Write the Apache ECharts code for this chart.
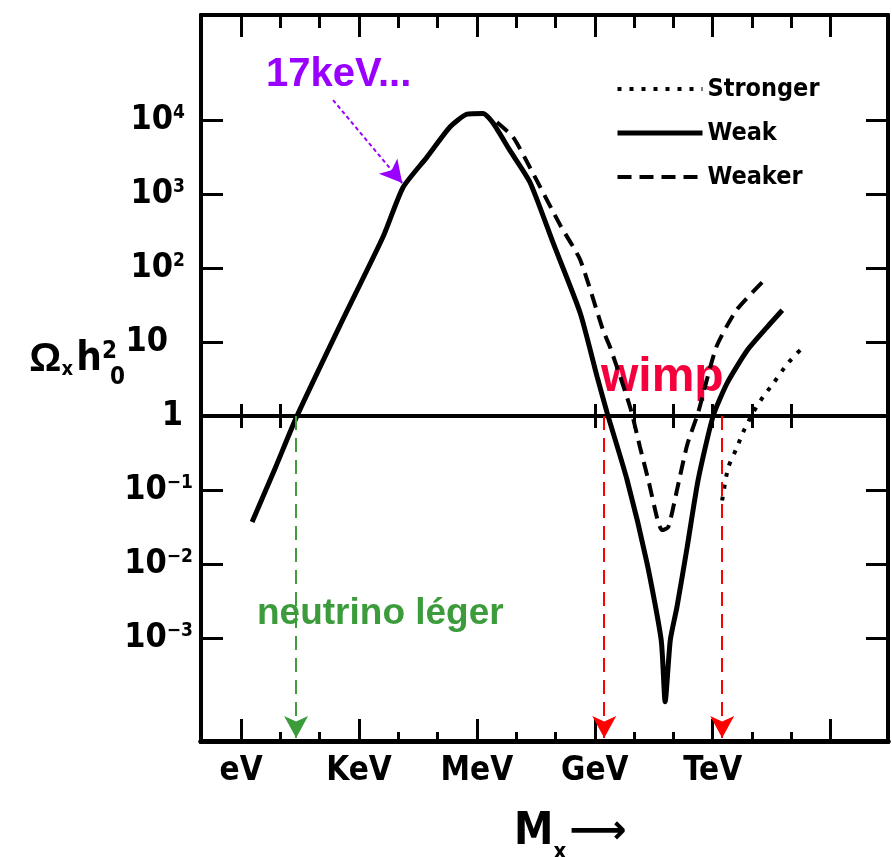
<!DOCTYPE html>
<html>
<head>
<meta charset="utf-8">
<script src="https://cdn.jsdelivr.net/npm/echarts@6/dist/echarts.min.js"></script>
<style>
  html, body { margin: 0; padding: 0; background: #fff; }
  #chart { width: 892px; height: 857px; }
</style>
</head>
<body>
<div id="chart"></div>
<script>
// x = log10(mass / eV), y = log10(Omega h0^2)
const massTicks = [0, 3, 6, 9, 12, 15]
const massLabels = { 0: 'eV', 3: 'KeV', 6: 'MeV', 9: 'GeV', 12: 'TeV' }
const minorMassTicks = [1, 2, 4, 5, 7, 8, 10, 11, 13, 14]
const lineTicks = [0, 1, 9, 10, 11, 12, 13, 14]
const omegaTicks = [-3, -2, -1, 0, 1, 2, 3, 4]

const weak = [
  [0.28, -1.43], [0.87, -0.70], [1.42, 0.00], [2.52, 1.23], [3.61, 2.42],
  [4.12, 3.09], [4.73, 3.50], [5.32, 3.91], [5.75, 4.08], [6.16, 4.09],
  [6.41, 3.96], [6.84, 3.59], [7.35, 3.16], [7.94, 2.34], [8.63, 1.39],
  [9.06, 0.53], [9.31, 0.05], [9.82, -0.86], [10.33, -1.99], [10.69, -3.03],
  [10.79, -3.86], [10.92, -3.03], [11.09, -2.58], [11.35, -1.77], [11.63, -0.86],
  [12.01, 0.00], [12.37, 0.45], [12.88, 0.89], [13.38, 1.20], [13.77, 1.43]
]
const weaker = [
  [6.51, 3.97], [6.92, 3.77], [7.35, 3.36], [8.12, 2.58], [8.63, 2.11],
  [9.21, 1.16], [9.39, 0.93], [9.90, 0.12], [10.15, -0.42], [10.36, -0.86],
  [10.61, -1.43], [10.71, -1.54], [10.87, -1.50], [11.09, -1.00], [11.35, -0.39],
  [11.63, 0.05], [12.09, 0.93], [12.60, 1.43], [13.26, 1.81]
]
const stronger = [
  [12.24, -1.14], [12.39, -0.70], [12.62, -0.42], [12.77, -0.22], [13.03, 0.05],
  [13.28, 0.26], [13.51, 0.42], [13.92, 0.72], [14.35, 0.96]
]

// annotation arrows (data coords)
const keVArrow = [[2.34, 4.27], [4.10, 3.15]]
const neutrinoX = 1.40
const wimpX = [9.24, 12.24]

const xMin = -1.02, xMax = 16.46
const yMin = -4.39, yMax = 5.42

const NARROW = '"Liberation Sans Narrow", "DejaVu Sans Condensed", "Liberation Sans", sans-serif'
const SANS = '"Liberation Sans", Arial, sans-serif'

function xAxisBase(position) {
  return {
    type: 'value', min: xMin, max: xMax, position: position,
    axisLine: { onZero: false, lineStyle: { color: '#000', width: position === 'bottom' ? 5 : 4 } },
    axisTick: { show: false },
    axisLabel: { show: false },
    splitLine: { show: false }
  }
}

function tickStyle(values, len, inside, width) {
  return { show: true, inside: inside, length: len, customValues: values, lineStyle: { color: '#000', width: width } }
}

let bottomMajor = xAxisBase('bottom')
bottomMajor.axisTick = tickStyle(massTicks, 22, true, 3)
bottomMajor.axisLabel = {
  show: true, customValues: [0, 3, 6, 9, 12], margin: 14,
  formatter: function(v) { return massLabels[Math.round(v)] || '' },
  color: '#000', fontFamily: NARROW, fontWeight: 'bold', fontSize: 33
}
bottomMajor.name = '{m|M}{x|x} {a|⟶}'
bottomMajor.nameLocation = 'middle'
bottomMajor.nameGap = 70
bottomMajor.nameMoveOverlap = false
bottomMajor.nameTextStyle = {
  padding: [0, 0, 0, 52],
  rich: {
    m: { fontFamily: NARROW, fontWeight: 'bold', fontSize: 44, color: '#000' },
    x: { fontFamily: NARROW, fontWeight: 'bold', fontSize: 22, color: '#000', verticalAlign: 'bottom', padding: [0, 0, -8, 0] },
    a: { fontFamily: '"DejaVu Sans"', fontWeight: 'bold', fontSize: 40, color: '#000' }
  }
}

let bottomMinor = xAxisBase('bottom')
bottomMinor.axisTick = tickStyle(minorMassTicks, 9, true, 3)

let topMajor = xAxisBase('top')
topMajor.axisTick = tickStyle(massTicks, 22, true, 3)

let topMinor = xAxisBase('top')
topMinor.axisTick = tickStyle(minorMassTicks, 13, true, 3)

// the Omega = 1 line, with ticks on both sides
let oneUp = xAxisBase('bottom')
oneUp.axisLine = { onZero: true, onZeroAxisIndex: 0, lineStyle: { color: '#000', width: 4 } }
oneUp.axisTick = tickStyle(lineTicks, 12, true, 3)

let oneDown = xAxisBase('bottom')
oneDown.axisLine = { onZero: true, onZeroAxisIndex: 0, lineStyle: { color: '#000', width: 4 } }
oneDown.axisTick = tickStyle(lineTicks, 12, false, 3)

function omegaLabel(v) {
  let n = Math.round(v)
  if (n === 0) return '{b|1}{p10| }'
  if (n === 1) return '{b|10}{p25| }'
  if (n > 0) return '{b|10}{s|' + n + '}{p8| }'
  return '{b|10}{s|−' + (-n) + '}'
}

let chart = echarts.init(document.getElementById('chart'))
chart.setOption({
  animation: false,
  backgroundColor: '#fff',
  grid: { left: 201, right: 4, top: 15, bottom: 116, outerBoundsMode: 'none', containLabel: false },
  legend: {
    data: ['Stronger', 'Weak', 'Weaker'],
    orient: 'vertical',
    left: 610, top: 70,
    itemWidth: 85, itemHeight: 14, itemGap: 16,
    selectedMode: false,
    itemStyle: { opacity: 0 },
    lineStyle: { width: 'inherit' },
    textStyle: { color: '#000', fontFamily: NARROW, fontWeight: 'bold', fontSize: 25, lineHeight: 28 }
  },
  xAxis: [bottomMajor, bottomMinor, topMajor, topMinor, oneUp, oneDown],
  yAxis: [
    {
      type: 'value', min: yMin, max: yMax, position: 'left',
      axisLine: { onZero: false, lineStyle: { color: '#000', width: 4 } },
      axisTick: tickStyle(omegaTicks, 22, true, 3),
      axisLabel: {
        customValues: omegaTicks, margin: 8,
        formatter: omegaLabel,
        rich: {
          b: { fontFamily: NARROW, fontWeight: 'bold', fontSize: 34, color: '#000' },
          s: { fontFamily: NARROW, fontWeight: 'bold', fontSize: 19, color: '#000', verticalAlign: 'top' },
          p8: { width: 8 }, p10: { width: 10 }, p25: { width: 25 }
        }
      },
      splitLine: { show: false },
      name: '{o|Ω}{x|x} {h|h}{t|2}{u|0}',
      nameLocation: 'middle',
      nameRotate: 0,
      nameGap: 76,
      nameMoveOverlap: false,
      nameTextStyle: {
        padding: [0, 0, 36, 0],
        rich: {
          o: { fontFamily: SANS, fontWeight: 'bold', fontSize: 40, color: '#000' },
          x: { fontFamily: NARROW, fontWeight: 'bold', fontSize: 20, color: '#000', verticalAlign: 'bottom' },
          h: { fontFamily: NARROW, fontWeight: 'bold', fontSize: 40, color: '#000' },
          t: { fontFamily: NARROW, fontWeight: 'bold', fontSize: 24, color: '#000', verticalAlign: 'top', width: 1, align: 'left', padding: [0, 0, 0, 7] },
          u: { fontFamily: NARROW, fontWeight: 'bold', fontSize: 24, color: '#000', verticalAlign: 'bottom', padding: [0, 0, -10, 0] }
        }
      }
    },
    {
      type: 'value', min: yMin, max: yMax, position: 'right',
      axisLine: { onZero: false, lineStyle: { color: '#000', width: 4 } },
      axisTick: tickStyle(omegaTicks, 22, true, 3),
      axisLabel: { show: false },
      splitLine: { show: false }
    }
  ],
  series: [
    {
      name: 'Stronger', type: 'line', data: stronger, symbol: 'none', smooth: 0.2,
      color: '#000', lineStyle: { color: '#000', width: 4, type: [4, 8] }
    },
    {
      name: 'Weak', type: 'line', data: weak, symbol: 'none', smooth: 0.2,
      color: '#000', lineStyle: { color: '#000', width: 5 },
      markLine: {
        silent: true,
        label: { show: false },
        symbol: ['none', 'arrow'],
        symbolSize: [18, 22],
        data: [
          [{ coord: keVArrow[0], symbolSize: [14, 18], lineStyle: { color: '#9900ff', width: 2, type: [4, 3] } },
           { coord: keVArrow[1] }],
          [{ coord: [neutrinoX, 0], lineStyle: { color: '#3c9c3c', width: 2, type: [14, 8] } },
           { coord: [neutrinoX, yMin + 0.04] }],
          [{ coord: [wimpX[0], 0], lineStyle: { color: '#ff0000', width: 2, type: [14, 8] } },
           { coord: [wimpX[0], yMin + 0.04] }],
          [{ coord: [wimpX[1], 0], lineStyle: { color: '#ff0000', width: 2, type: [14, 8] } },
           { coord: [wimpX[1], yMin + 0.04] }]
        ]
      }
    },
    {
      name: 'Weaker', type: 'line', data: weaker, symbol: 'none', smooth: 0.2,
      color: '#000', lineStyle: { color: '#000', width: 4, type: [14, 8] }
    }
  ],
  graphic: [
    { type: 'text', left: 266, top: 55, style: { text: '17keV...', fill: '#9900ff', font: 'bold 40px "Liberation Sans", Arial, sans-serif' } },
    { type: 'text', left: 601, top: 354, style: { text: 'wimp', fill: '#f5003c', font: 'bold 48px "Liberation Sans", Arial, sans-serif' } },
    { type: 'text', left: 257, top: 595, style: { text: 'neutrino léger', fill: '#3c9c3c', font: 'bold 37px "Liberation Sans", Arial, sans-serif' } }
  ]
})
</script>
</body>
</html>
